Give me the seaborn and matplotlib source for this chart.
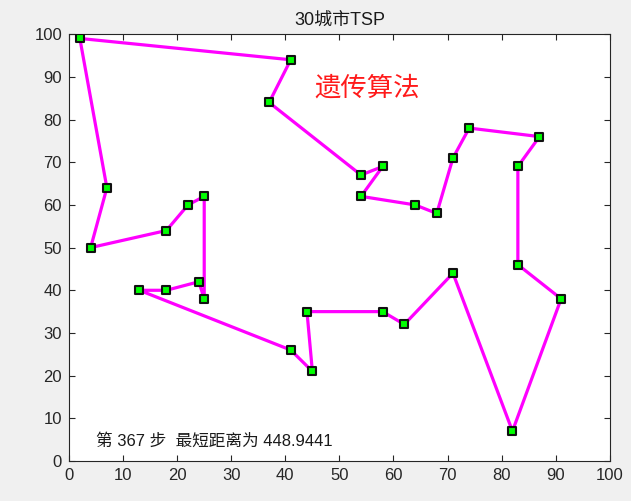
import matplotlib
matplotlib.use("Agg")
import matplotlib.pyplot as plt
import pandas as pd
import seaborn as sns

# tour order of the 30 cities (closed path)
city_x = [2, 41, 37, 54, 58, 54, 64, 68, 71, 74, 87, 83, 83, 91, 82,
          71, 62, 58, 44, 45, 41, 13, 18, 24, 25, 25, 22, 18, 4, 7, 2]
city_y = [99, 94, 84, 67, 69, 62, 60, 58, 71, 78, 76, 69, 46, 38, 7,
          44, 32, 35, 35, 21, 26, 40, 40, 42, 38, 62, 60, 54, 50, 64, 99]
ticks = [0, 10, 20, 30, 40, 50, 60, 70, 80, 90, 100]

title = "30城市TSP"
method = "遗传算法"
info = "第 367 步  最短距离为 448.9441"

sns.set_style("ticks")
plt.rcParams["font.family"] = ["Liberation Sans", "Noto Sans CJK SC", "DejaVu Sans"]

df = pd.DataFrame({"x": city_x, "y": city_y})

fig = plt.figure(figsize=(6.31, 5.01), dpi=100, facecolor="#f0f0f0")
ax = fig.add_axes([0.1094, 0.0798, 0.857, 0.852])
ax.set_facecolor("white")

sns.lineplot(data=df, x="x", y="y", sort=False, estimator=None, ax=ax,
             color="#ff00ff", linewidth=2.3, zorder=2)
sns.scatterplot(data=df.iloc[:-1], x="x", y="y", ax=ax, marker="s", s=40,
                color="#00ff00", edgecolor="#111111", linewidth=1.5, zorder=3)

ax.set_xlim(0, 100)
ax.set_ylim(0, 100)
ax.set_xticks(ticks)
ax.set_yticks(ticks)
ax.set_xlabel("")
ax.set_ylabel("")
ax.tick_params(direction="in", top=True, right=True, length=4, width=0.8,
               labelsize=12, colors="#262626", pad=5)
for s in ax.spines.values():
    s.set_color("#262626")
    s.set_linewidth(0.8)

ax.set_title(title, fontsize=13, color="#1a1a1a", pad=6)
ax.text(45.3, 87.3, method, color="#ff1a1a", fontsize=19, va="center", ha="left")
ax.text(5.0, 4.8, info, color="#1a1a1a", fontsize=12, va="center", ha="left")

fig.savefig("out.png", dpi=100, facecolor=fig.get_facecolor())
